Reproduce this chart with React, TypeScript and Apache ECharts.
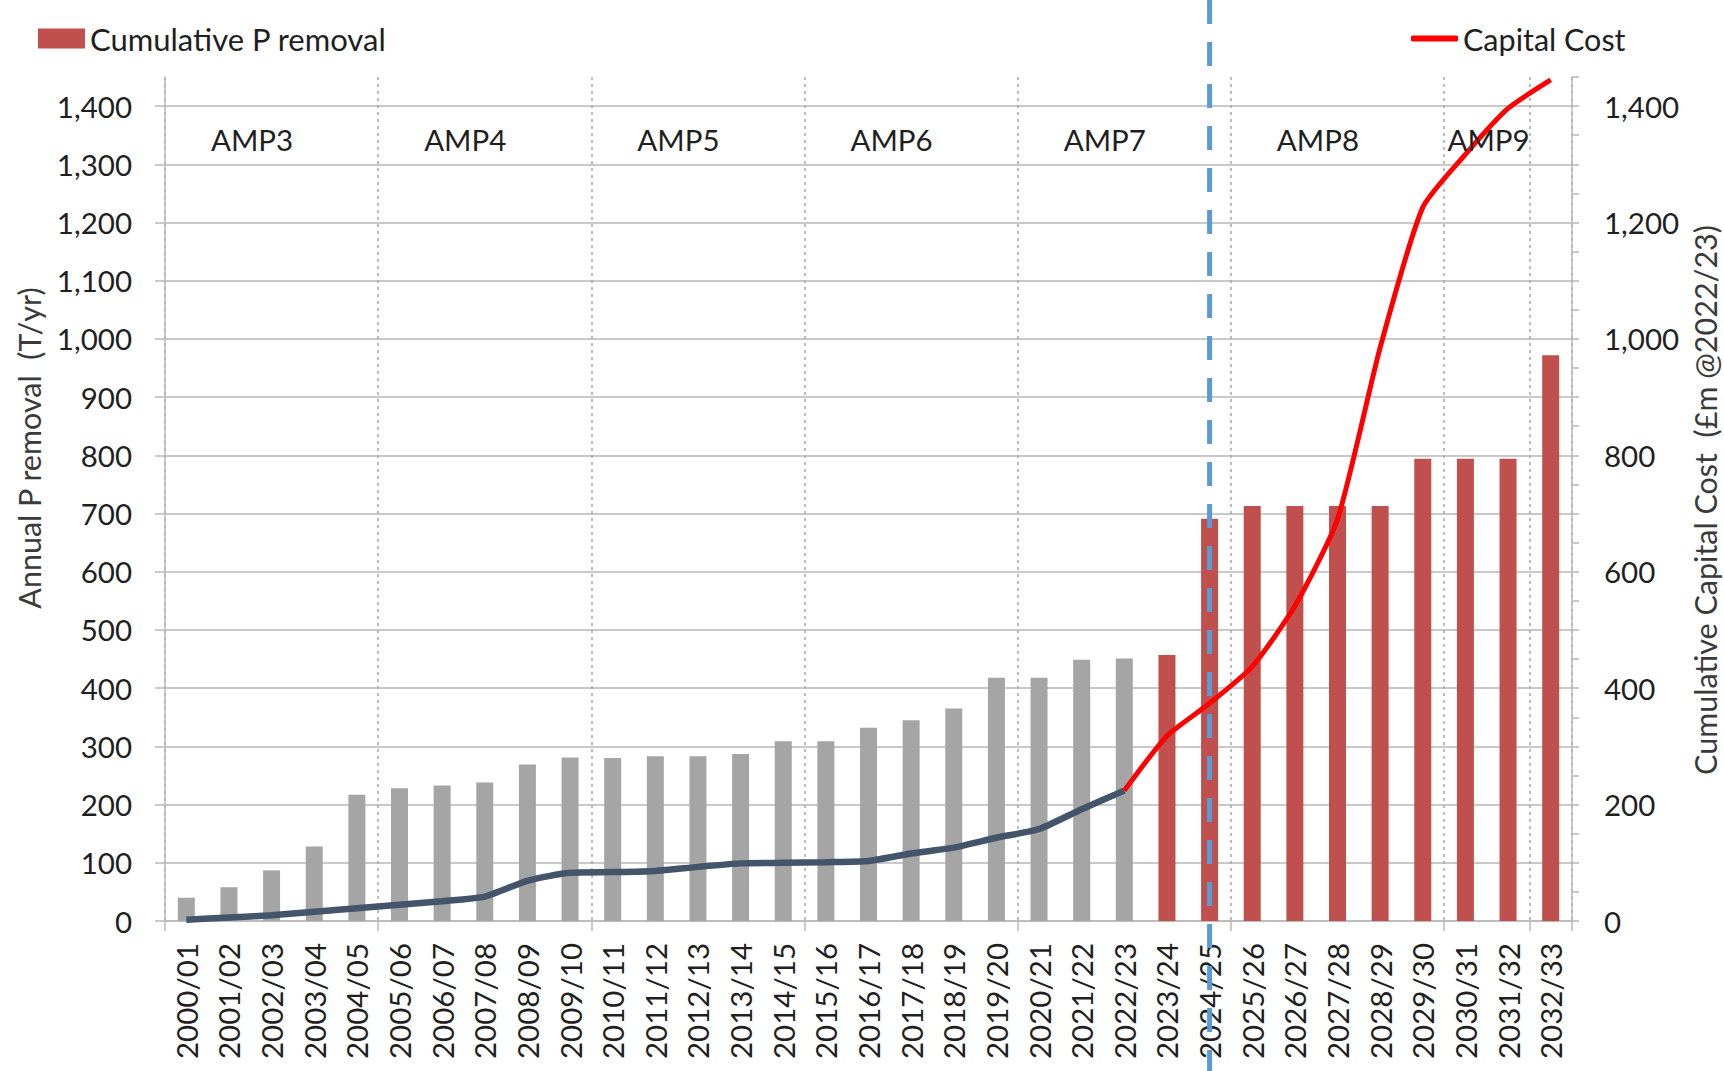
import React, { useEffect, useRef } from 'react';
import * as echarts from 'echarts';

// ---------- data ----------
const categories = [
  '2000/01', '2001/02', '2002/03', '2003/04', '2004/05', '2005/06', '2006/07', '2007/08',
  '2008/09', '2009/10', '2010/11', '2011/12', '2012/13', '2013/14', '2014/15', '2015/16',
  '2016/17', '2017/18', '2018/19', '2019/20', '2020/21', '2021/22', '2022/23', '2023/24',
  '2024/25', '2025/26', '2026/27', '2027/28', '2028/29', '2029/30', '2030/31', '2031/32',
  '2032/33',
];

// Annual P removal (T/yr), left axis
const annualRemoval = [
  40, 58, 87, 128, 217, 228, 233, 238, 269, 281, 280, 283, 283, 287, 309, 309,
  332, 345, 365, 418, 418, 449, 451, 457, 691, 713, 713, 713, 713, 794, 794, 794,
  972,
];

// Cumulative capital cost (£m @2022/23), right axis
const capitalCost = [
  2, 6, 10, 16, 22, 28, 34, 42, 69, 83, 84, 86, 93, 99, 100, 101,
  103, 116, 126, 143, 158, 192, 224, 318, 374, 437, 541, 690, 985, 1226, 1317, 1396,
  1445,
];

// number of historic years (2000/01 .. 2022/23)
const historicCount = 23;

// AMP period labels and the category they are anchored on
const ampLabels = ['AMP3', 'AMP4', 'AMP5', 'AMP6', 'AMP7', 'AMP8', 'AMP9'];
const ampAnchors = ['2001/02', '2006/07', '2011/12', '2016/17', '2021/22', '2026/27', '2030/31'];
const ampLabelValue = 1343;

const forecastMarker = '2024/25';

const leftAxisName = 'Annual P removal  (T/yr)';
const rightAxisName = 'Cumulative Capital Cost  (£m @2022/23)';

// ---------- styles ----------
const FONT = 'Lato';
const TEXT = '#1f1f1f';
const TITLE = '#3a3a3a';
const GRID = '#c9c9c9';
const AXIS = '#b8b8b8';
const GREY_BAR = '#a5a5a5';
const RED_BAR = '#c0504d';
const NAVY = '#44546a';
const RED_LINE = '#ff0000';
const BLUE = '#5b9bd5';
const TICK_FONT = 29.5;

const W = 1724;
const H = 1071;

const fmt = (v: number) => v.toLocaleString('en-US');

export default function App() {
  const ref = useRef<HTMLDivElement>(null);

  useEffect(() => {
    document.body.style.margin = '0';
    if (!ref.current) return;
    const chart = echarts.init(ref.current, undefined, { renderer: 'svg' });

    const barData = annualRemoval.map((v, i) =>
      i < historicCount ? { value: v, itemStyle: { color: GREY_BAR } } : v
    );
    const historicLine = capitalCost.map((v, i) => (i < historicCount ? v : null));
    const forecastLine = capitalCost.map((v, i) => (i >= historicCount - 1 ? v : null));

    const option: any = {
      animation: false,
      backgroundColor: '#ffffff',
      textStyle: { fontFamily: FONT },
      grid: { left: 165, right: 152, top: 77, bottom: 150, containLabel: false },
      legend: [
        {
          data: ['Cumulative P removal'],
          left: 38,
          top: 23,
          padding: 0,
          icon: 'rect',
          itemWidth: 47,
          itemHeight: 20,
          textStyle: { fontSize: 31, color: TEXT, fontFamily: FONT },
          selectedMode: false,
        },
        {
          data: ['Capital Cost'],
          left: 1411,
          top: 23,
          padding: 0,
          icon: 'roundRect',
          itemWidth: 47,
          itemHeight: 6,
          textStyle: { fontSize: 30.5, color: TEXT, fontFamily: FONT },
          selectedMode: false,
        },
      ],
      xAxis: {
        type: 'category',
        data: categories,
        boundaryGap: true,
        axisLine: { show: true, lineStyle: { color: AXIS, width: 1.5 } },
        axisTick: { show: true, interval: 4, length: 10, lineStyle: { color: AXIS, width: 1.5 } },
        axisLabel: {
          interval: 0,
          rotate: 90,
          margin: 22,
          fontSize: TICK_FONT,
          color: TEXT,
          fontFamily: FONT,
        },
        splitLine: {
          show: true,
          interval: 4,
          lineStyle: { color: '#a8a8a8', type: [3, 4], width: 1.5 },
        },
      },
      yAxis: [
        {
          type: 'value',
          min: 0,
          max: 1450,
          interval: 100,
          position: 'left',
          axisLine: { show: true, lineStyle: { color: AXIS, width: 1.5 } },
          axisTick: { show: true, length: 10, lineStyle: { color: AXIS, width: 1.5 } },
          axisLabel: {
            margin: 33,
            fontSize: TICK_FONT,
            color: TEXT,
            fontFamily: FONT,
            showMaxLabel: false,
            formatter: (v: number) => (v % 100 === 0 ? fmt(v) : ''),
          },
          splitLine: {
            show: true,
            showMaxLine: false,
            lineStyle: { color: GRID, width: 2 },
          },
        },
        {
          type: 'value',
          min: 0,
          max: 1450,
          interval: 50,
          position: 'right',
          axisLine: { show: true, lineStyle: { color: AXIS, width: 1.5 } },
          axisTick: { show: true, length: 7, lineStyle: { color: AXIS, width: 1.5 } },
          axisLabel: {
            margin: 32,
            fontSize: TICK_FONT,
            color: TEXT,
            fontFamily: FONT,
            formatter: (v: number) => (v % 200 === 0 ? fmt(v) : ''),
          },
          splitLine: { show: false },
        },
      ],
      series: [
        {
          name: 'Cumulative P removal',
          type: 'bar',
          barWidth: 17,
          itemStyle: { color: RED_BAR },
          data: barData,
          markPoint: {
            symbol: 'rect',
            symbolSize: 1,
            itemStyle: { color: 'rgba(0,0,0,0)' },
            label: {
              show: true,
              position: 'inside',
              align: 'left',
              verticalAlign: 'middle',
              offset: [-18, 0],
              formatter: '{b}',
              fontSize: 29.5,
              color: TEXT,
              fontFamily: FONT,
            },
            data: ampLabels.map((name, i) => ({
              name,
              coord: [ampAnchors[i], ampLabelValue],
            })),
          },
        },
        {
          name: 'Historic Cost',
          type: 'line',
          yAxisIndex: 1,
          data: historicLine,
          symbol: 'none',
          showSymbol: false,
          smooth: 0.2,
          lineStyle: { color: NAVY, width: 6.5 },
          itemStyle: { color: NAVY },
          z: 4,
        },
        {
          name: 'Capital Cost',
          type: 'line',
          yAxisIndex: 1,
          data: forecastLine,
          symbol: 'none',
          showSymbol: false,
          smooth: 0.2,
          lineStyle: { color: RED_LINE, width: 5 },
          itemStyle: { color: RED_LINE },
          z: 4,
        },
      ],
    };

    chart.setOption(option);

    const mx = chart.convertToPixel({ xAxisIndex: 0 }, forecastMarker) as number;
    const right = W - 152;

    chart.setOption({
      graphic: [
        {
          type: 'line',
          z: 100,
          shape: { x1: mx, y1: 0, x2: mx, y2: H },
          style: { stroke: BLUE, lineWidth: 5, lineDash: [24, 18] },
        },
        {
          type: 'text',
          x: 29,
          y: 448,
          rotation: Math.PI / 2,
          style: {
            text: leftAxisName,
            fontSize: 30.5,
            fontFamily: FONT,
            fill: TITLE,
            align: 'center',
            verticalAlign: 'middle',
            textAlign: 'center',
            textVerticalAlign: 'middle',
          },
        },
        {
          type: 'text',
          x: right + 133,
          y: 500,
          rotation: Math.PI / 2,
          style: {
            text: rightAxisName,
            fontSize: 30.5,
            fontFamily: FONT,
            fill: TITLE,
            align: 'center',
            verticalAlign: 'middle',
            textAlign: 'center',
            textVerticalAlign: 'middle',
          },
        },
      ],
    });

    return () => chart.dispose();
  }, []);

  return <div ref={ref} style={{ width: W, height: H }} />;
}
